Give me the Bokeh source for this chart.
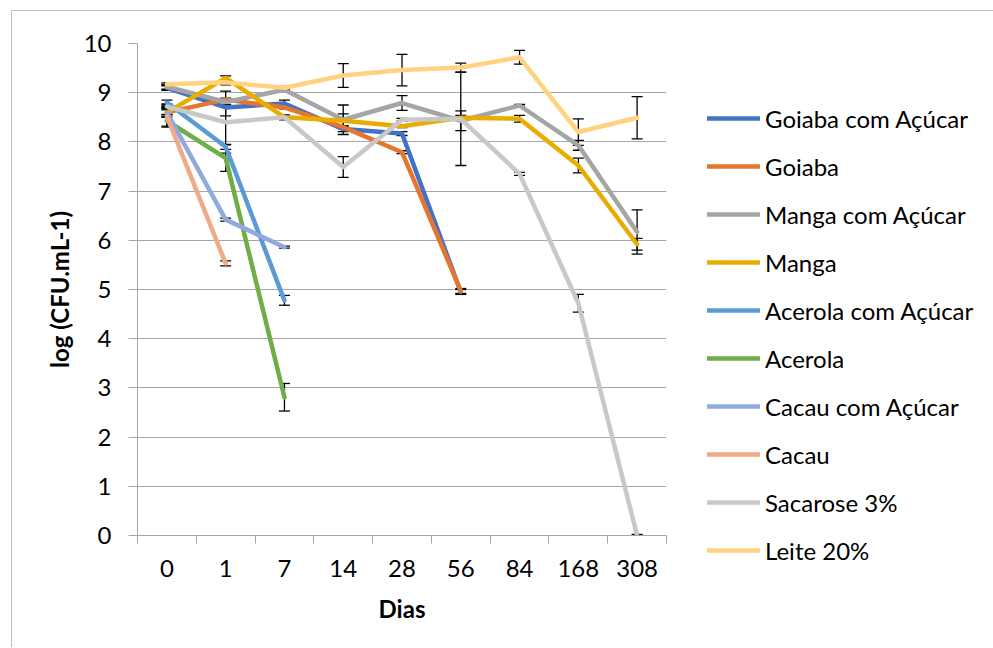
from bokeh.plotting import figure
from bokeh.models import (ColumnDataSource, Range1d, FixedTicker, Legend, LegendItem,
                          Whisker, TeeHead)
from bokeh.embed import file_html
from bokeh.resources import INLINE
import numpy as np

# ---------------- data ----------------
days = ["0", "1", "7", "14", "28", "56", "84", "168", "308"]
y_ticks = list(range(0, 11))

series_names = ["Goiaba com Açúcar", "Goiaba", "Manga com Açúcar", "Manga",
                "Acerola com Açúcar", "Acerola", "Cacau com Açúcar", "Cacau",
                "Sacarose 3%", "Leite 20%"]

goiaba_acucar = [9.10, 8.70, 8.78, 8.26, 8.17, 4.95]
goiaba_acucar_err = [0.05, 0.17, 0.07, 0.05, 0.04, 0.05]
goiaba = [8.60, 8.86, 8.70, 8.30, 7.79, 4.97]
goiaba_err = [0.10, 0.03, 0.03, 0.03, 0.03, 0.05]
manga_acucar = [9.12, 8.81, 9.06, 8.45, 8.79, 8.43, 8.74, 7.93, 6.17]
manga_acucar_err = [0.05, 0.05, 0.03, 0.30, 0.15, 0.20, 0.02, 0.10, 0.45]
manga = [8.60, 9.30, 8.50, 8.43, 8.32, 8.49, 8.47, 7.52, 5.92]
manga_err = [0.08, 0.04, 0.03, 0.14, 0.03, 0.05, 0.07, 0.15, 0.12]
acerola_acucar = [8.80, 7.90, 4.78]
acerola_acucar_err = [0.05, 0.05, 0.10]
acerola = [8.43, 7.67, 2.81]
acerola_err = [0.13, 0.27, 0.28]
cacau_acucar = [8.60, 6.42, 5.86]
cacau_acucar_err = [0.05, 0.03, 0.02]
cacau = [8.52, 5.53]
cacau_err = [0.20, 0.05]
sacarose = [8.72, 8.40, 8.50, 7.49, 8.45, 8.47, 7.35, 4.72, 0.00]
sacarose_err = [0.05, 0.63, 0.05, 0.21, 0.03, 0.95, 0.03, 0.18, 0.02]
leite = [9.17, 9.21, 9.10, 9.35, 9.46, 9.51, 9.72, 8.20, 8.49]
leite_err = [0.03, 0.05, 0.03, 0.24, 0.32, 0.09, 0.14, 0.27, 0.43]

values = [goiaba_acucar, goiaba, manga_acucar, manga, acerola_acucar, acerola,
          cacau_acucar, cacau, sacarose, leite]
errors = [goiaba_acucar_err, goiaba_err, manga_acucar_err, manga_err,
          acerola_acucar_err, acerola_err, cacau_acucar_err, cacau_err,
          sacarose_err, leite_err]
colors = ["#4472c4", "#e5762f", "#a5a5a5", "#e8ad00", "#5b9bd5", "#70ad47",
          "#8faadc", "#f2a98a", "#c8c8c8", "#ffd27f"]

FONT = "Lato"
GRID = "#a6a6a6"

p = figure(frame_width=529, frame_height=492, output_backend="svg", toolbar_location=None,
           x_range=Range1d(0, len(days)), y_range=Range1d(0, 10),
           min_border_left=125, min_border_top=32, min_border_right=0,
           min_border_bottom=112)
p.margin = (10, 0, 0, 11)
p.styles = {"border-left": "1px solid #bfbfbf", "border-top": "1px solid #bfbfbf"}
p.outline_line_color = None
p.background_fill_color = "white"
p.border_fill_color = "white"

centers = [i + 0.5 for i in range(len(days))]
bounds = list(range(len(days) + 1))

# x axis
p.xaxis.ticker = FixedTicker(ticks=centers, minor_ticks=bounds)
p.xaxis.major_label_overrides = {c: d for c, d in zip(centers, days)}
p.xaxis.major_tick_out = 0
p.xaxis.major_tick_in = 0
p.xaxis.minor_tick_out = 8
p.xaxis.minor_tick_in = 0
p.xaxis.minor_tick_line_color = GRID
p.xaxis.minor_tick_line_width = 1
p.xaxis.axis_line_color = GRID
p.xaxis.axis_label = "Dias"
p.xaxis.major_label_standoff = 16
p.xaxis.axis_label_standoff = 14
p.xgrid.grid_line_color = None

# y axis
p.yaxis.ticker = FixedTicker(ticks=y_ticks)
p.yaxis.major_tick_out = 9
p.yaxis.major_tick_in = 0
p.yaxis.minor_tick_line_color = None
p.yaxis.major_tick_line_color = GRID
p.yaxis.axis_line_color = GRID
p.yaxis.axis_label = "log (CFU.mL-1)"
p.yaxis.major_label_standoff = 17
p.yaxis.axis_label_standoff = 7
p.ygrid.grid_line_color = GRID
p.ygrid.grid_line_width = 1

for ax in (p.xaxis[0], p.yaxis[0]):
    ax.major_label_text_font = FONT
    ax.major_label_text_font_size = "24px"
    ax.major_label_text_color = "black"
    ax.axis_label_text_font = FONT
    ax.axis_label_text_font_size = "24px"
    ax.axis_label_text_font_style = "bold"
    ax.axis_label_text_color = "black"

items = []
for name, vals, errs, col in zip(series_names, values, errors, colors):
    n = len(vals)
    v = np.array(vals)
    e = np.array(errs)
    src = ColumnDataSource(dict(x=centers[:n], y=v, upper=v + e, lower=v - e))
    r = p.line("x", "y", source=src, line_color=col, line_width=4.5,
               line_join="round", line_cap="round")
    w = Whisker(source=src, base="x", upper="upper", lower="lower",
                line_color="black", line_width=1.3,
                upper_head=TeeHead(size=11, line_color="black", line_width=1.3),
                lower_head=TeeHead(size=11, line_color="black", line_width=1.3))
    p.add_layout(w)
    items.append(LegendItem(label=name, renderers=[r]))

legend = Legend(items=items, location=(41, -39))
legend.border_line_color = None
legend.background_fill_alpha = 0
legend.padding = 0
legend.margin = 0
legend.spacing = 0
legend.glyph_width = 53
legend.glyph_height = 48
legend.label_height = 48
legend.label_standoff = 5
legend.label_text_font = FONT
legend.label_text_font_size = "24px"
legend.label_text_color = "black"
p.add_layout(legend, "right")

open("out.html", "w").write(file_html(p, INLINE))
